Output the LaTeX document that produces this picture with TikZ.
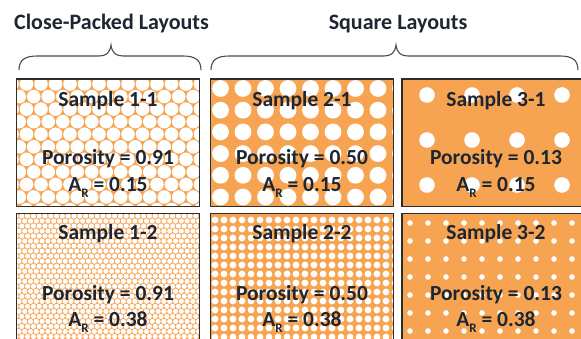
\documentclass[tikz,border=0pt]{standalone}
\usepackage{fontspec}
\setmainfont{Carlito}
\definecolor{org}{RGB}{247,164,82}
\definecolor{txt}{RGB}{30,38,50}
\definecolor{frm}{RGB}{45,45,45}
\newcommand\subR{\raisebox{-0.28em}{\fontsize{13}{13}\selectfont R}}
\tikzset{
  boxframe/.style={draw=frm, line width=1.4pt, inner sep=0pt, fill=none},
  hole/.style={fill=white},
  lbl/.style={font=\fontsize{21.5}{24}\selectfont\bfseries, text=txt, anchor=base, inner sep=0pt},
  hdr/.style={font=\fontsize{22}{24}\selectfont\bfseries, text=txt, anchor=base, inner sep=0pt},
  bracestyle/.style={draw=frm!85, line width=1.1pt}
}
\begin{document}
\begin{tikzpicture}[x=1pt,y=-1pt]
\useasboundingbox (0,0) rectangle (581,339);
\fill[white] (0,0) rectangle (581,339);

% headers
\node[hdr] (h1) at (111.5,30) {Close-Packed Layouts};
\node[hdr] (h2) at (398,30) {Square Layouts};

% braces
\draw[bracestyle] (19,70) .. controls (19,60) and (25,56) .. (37,56) -- (99,56)
  .. controls (106,56) and (110,53) .. (111,45)
  .. controls (112,53) and (116,56) .. (123,56) -- (183,56)
  .. controls (195,56) and (201,60) .. (201,70);
\draw[bracestyle] (211,70) .. controls (211,60) and (217,56) .. (229,56) -- (384,56)
  .. controls (391,56) and (395,53) .. (396,45)
  .. controls (397,53) and (401,56) .. (408,56) -- (560,56)
  .. controls (572,56) and (578,60) .. (578,70);

% ---------- Sample 1-1 : hexagonal, large ----------
\begin{scope}
\clip (16.5,79) rectangle (199.5,206.5);
\fill[org] (16.5,79) rectangle (199.5,206.5);
\foreach \j in {0,...,11}{
  \foreach \i in {-1,...,14}{
    \pgfmathsetmacro\xx{12+\i*14.5+mod(\j,2)*7.25}
    \pgfmathsetmacro\yy{84+\j*12.56}
    \fill[hole] (\xx,\yy) circle[radius=6.8];
  }
}
\end{scope}
% ---------- Sample 1-2 : hexagonal, small ----------
\begin{scope}
\clip (16.5,213.5) rectangle (199.5,345);
\fill[org] (16.5,213.5) rectangle (199.5,345);
\foreach \j in {0,...,26}{
  \foreach \i in {-1,...,33}{
    \pgfmathsetmacro\xx{16+\i*5.8+mod(\j,2)*2.9}
    \pgfmathsetmacro\yy{216+\j*5.02}
    \fill[hole] (\xx,\yy) circle[radius=2.6];
  }
}
\end{scope}
% ---------- Sample 2-1 : square, large ----------
\begin{scope}
\clip (210.5,79) rectangle (393.5,206.5);
\fill[org] (210.5,79) rectangle (393.5,206.5);
\foreach \j in {0,...,5}{
  \foreach \i in {0,...,8}{
    \fill[hole] (220.5+\i*22.5,88.5+\j*21.7) circle[radius=8.4];
  }
}
\end{scope}
% ---------- Sample 2-2 : square, small ----------
\begin{scope}
\clip (210.5,213.5) rectangle (393.5,345);
\fill[org] (210.5,213.5) rectangle (393.5,345);
\foreach \j in {0,...,14}{
  \foreach \i in {0,...,20}{
    \fill[hole] (215+\i*9,220+\j*9) circle[radius=3.4];
  }
}
\end{scope}
% ---------- Sample 3-1 : square, sparse large ----------
\begin{scope}
\clip (402,79) rectangle (590,206.5);
\fill[org] (402,79) rectangle (590,206.5);
\foreach \j in {0,...,2}{
  \foreach \i in {0,...,4}{
    \fill[hole] (427+\i*45,95+\j*45) circle[radius=7.8];
  }
}
\end{scope}
% ---------- Sample 3-2 : square, sparse small ----------
\begin{scope}
\clip (402,213.5) rectangle (590,345);
\fill[org] (402,213.5) rectangle (590,345);
\foreach \j in {0,...,7}{
  \foreach \i in {0,...,10}{
    \fill[hole] (410+\i*18,223+\j*18) circle[radius=2.8];
  }
}
\end{scope}

% frames
\node[boxframe, minimum width=183pt, minimum height=127.5pt] (b11) at (108,142.75) {};
\node[boxframe, minimum width=183pt, minimum height=131.5pt] (b12) at (108,279.25) {};
\node[boxframe, minimum width=183pt, minimum height=127.5pt] (b21) at (302,142.75) {};
\node[boxframe, minimum width=183pt, minimum height=131.5pt] (b22) at (302,279.25) {};
\node[boxframe, minimum width=188pt, minimum height=127.5pt] (b31) at (496,142.75) {};
\node[boxframe, minimum width=188pt, minimum height=131.5pt] (b32) at (496,279.25) {};

% labels row 1
\node[lbl] (s11) at (108,106.7) {Sample 1-1};
\node[lbl] (p11) at (108,164.5) {Porosity = 0.91};
\node[lbl] (a11) at (108,191.2) {A\subR{} = 0.15};
\node[lbl] (s21) at (302,106.7) {Sample 2-1};
\node[lbl] (p21) at (302,164.5) {Porosity = 0.50};
\node[lbl] (a21) at (302,191.2) {A\subR{} = 0.15};
\node[lbl] (s31) at (496,106.7) {Sample 3-1};
\node[lbl] (p31) at (496,164.5) {Porosity = 0.13};
\node[lbl] (a31) at (496,191.2) {A\subR{} = 0.15};
% labels row 2
\node[lbl] (s12) at (108,240) {Sample 1-2};
\node[lbl] (p12) at (108,300) {Porosity = 0.91};
\node[lbl] (a12) at (108,326.7) {A\subR{} = 0.38};
\node[lbl] (s22) at (302,240) {Sample 2-2};
\node[lbl] (p22) at (302,300) {Porosity = 0.50};
\node[lbl] (a22) at (302,326.7) {A\subR{} = 0.38};
\node[lbl] (s32) at (496,240) {Sample 3-2};
\node[lbl] (p32) at (496,300) {Porosity = 0.13};
\node[lbl] (a32) at (496,326.7) {A\subR{} = 0.38};
\end{tikzpicture}
\end{document}
